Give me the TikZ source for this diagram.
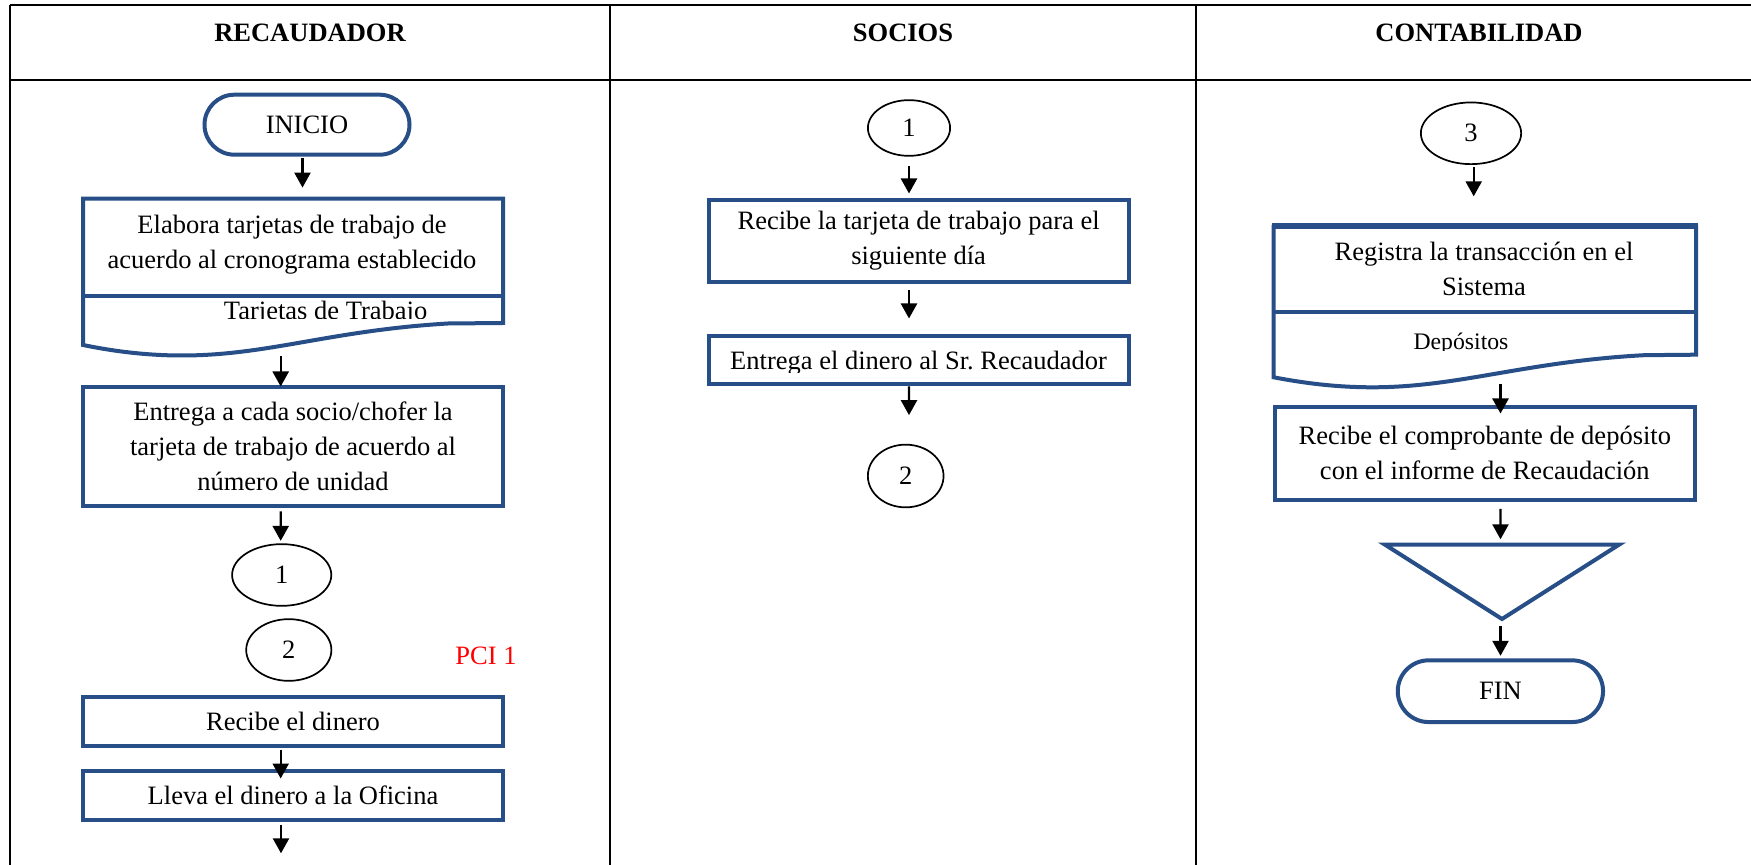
\documentclass[tikz,border=0pt]{standalone}
\usepackage{fontspec}
\setmainfont{Liberation Serif}
\usetikzlibrary{arrows.meta,shapes.misc,shapes.geometric,calc}
\definecolor{flowblue}{RGB}{39,78,135}
% fixes the height of the first line of a multi-line label
\newcommand\firstline{\rule{0pt}{10pt}}

\begin{document}
\begin{tikzpicture}[x=0.5pt,y=-0.5pt,
  every node/.style={font=\fontsize{13.25}{17.5}\selectfont, inner sep=0pt},
  lane/.style={line width=1.1pt, draw=black},
  procbox/.style={draw=flowblue, line width=2pt, rectangle, minimum width=210pt, align=center},
  terminal/.style={draw=flowblue, line width=2pt, rounded rectangle, minimum width=102.5pt, minimum height=30pt},
  connector/.style={draw=black, line width=0.85pt, ellipse},
  docline/.style={draw=flowblue, line width=2pt, line join=miter},
  flowarrow/.style={draw=black, line width=1.2pt, -{Triangle[width=8pt,length=7.5pt]}},
  heading/.style={font=\fontsize{13.25}{17.5}\selectfont\bfseries, anchor=base},
]
\useasboundingbox (0,0) rectangle (1751,865);
\fill[white] (0,0) rectangle (1751,865);

% swimlane grid
\draw[lane] (10,5) -- (1751,5);
\draw[lane] (10,80) -- (1751,80);
\draw[lane] (10,5) -- (10,865);
\draw[lane] (610,5) -- (610,865);
\draw[lane] (1196,5) -- (1196,865);

\node[heading] (hrec) at (310,41.7) {RECAUDADOR};
\node[heading] (hsoc) at (903,41.7) {SOCIOS};
\node[heading] (hcon) at (1479,41.7) {CONTABILIDAD};

% ---------------- RECAUDADOR ----------------
\node[terminal] (inicio) at (307,124.7) {INICIO};

% document shape: work cards
\node[minimum width=212pt, minimum height=80.3pt] (doc1) at (293,277) {};
\draw[docline] (83,198.7) -- (503,198.7) -- (503,323) -- (448,323.5)
  .. controls (330,330.5) and (268,355.5) .. (182,355.5)
  .. controls (140,355.5) and (105,349.5) .. (83,345) -- cycle;
\draw[docline] (83,296) -- (503,296);
\node[anchor=north, align=center] (doc1text) at (292,213)
  {\firstline Elabora tarjetas de trabajo de\\acuerdo al cronograma establecido};
\begin{scope}
  \clip (85,298) rectangle (501,318.3);
  \node[anchor=base] (doc1label) at (325.6,320) {Tarjetas de Trabajo};
\end{scope}

\node[procbox, minimum height=59.65pt] (box2) at (293,446.7)
  {Entrega a cada socio/chofer la\\tarjeta de trabajo de acuerdo al\\número de unidad};
\node[connector, minimum width=49.6pt, minimum height=30.85pt] (c1a) at (281.7,575) {1};
\node[connector, minimum width=42.6pt, minimum height=30.85pt] (c2a) at (288.8,650) {2};
\node[anchor=base, text=red] (pci) at (486,665) {PCI 1};
\node[procbox, minimum height=24.5pt] (box3) at (293,721.3) {Recibe el dinero};
\node[procbox, minimum height=24.5pt] (box4) at (293,795.3) {Lleva el dinero a la Oficina};
\coordinate (tail) at (281,853.3);

\draw[flowarrow] ($(inicio.south)+(-4.5,1.5)$) -- ($(doc1.north)+(9.5,-8.7)$);
\draw[flowarrow] ($(doc1.south)+(-12.3,-1.3)$) -- ($(box2.north)+(-12.3,1.45)$);
\draw[flowarrow] ($(box2.south)+(-12.3,3.15)$) -- ($(c1a.north)+(-1,-2.45)$);
\draw[flowarrow] ($(box3.south)+(-12.3,1.7)$) -- ($(box4.north)+(-12.3,9.7)$);
\draw[flowarrow] ($(box4.south)+(-12,2.7)$) -- (tail);

% ---------------- SOCIOS ----------------
\node[connector, minimum width=41.1pt, minimum height=27.85pt] (s1) at (909,128) {1};
\node[procbox, minimum height=41.35pt] (sbox1) at (918.6,240.9)
  {Recibe la tarjeta de trabajo para el\\siguiente día};
\node[procbox, minimum height=23.85pt] (sbox2) at (918.6,359.9) {};
\begin{scope}
  \clip (708,337) rectangle (1129,373);
  \node[anchor=base] (sbox2text) at (918.6,370) {Entrega el dinero al Sr.\ Recaudador};
\end{scope}
\node[connector, minimum width=37.85pt, minimum height=31.35pt] (s2) at (905.7,476) {2};

\draw[flowarrow] ($(s1.south)+(0,9.15)$) -- ($(sbox1.north)+(-9.6,-4.05)$);
\draw[flowarrow] ($(sbox1.south)+(-9.6,5.55)$) -- ($(sbox2.north)+(-9.6,-15.55)$);
\draw[flowarrow] ($(sbox2.south)+(-9.6,0.75)$) -- ($(s2.north)+(3.3,-28.65)$);

% ---------------- CONTABILIDAD ----------------
\node[connector, minimum width=50.15pt, minimum height=30.85pt] (c3) at (1471,133.3) {3};

% document shape: deposits
\node[minimum width=213.2pt, minimum height=83.3pt] (doc2) at (1484.8,306) {};
\draw[docline] (1273.6,227) -- (1696,227) -- (1696,354.7) -- (1644,355.2)
  .. controls (1526,361.5) and (1458.5,387.3) .. (1372.5,387.3)
  .. controls (1330,387.3) and (1296,381.5) .. (1273.6,377.3) -- cycle;
\draw[draw=flowblue, line width=3.3pt] (1271.6,226) -- (1698,226);
\draw[docline] (1273.6,312.3) -- (1696,312.3);
\node[anchor=north, align=center] (doc2text) at (1484,240)
  {\firstline Registra la transacción en el\\Sistema};
\begin{scope}
  \clip (1275,314) rectangle (1694,351);
  \node[anchor=base, font=\fontsize{11.85}{14}\selectfont] (doc2label) at (1461,349.3) {Depósitos};
\end{scope}

\node[procbox, minimum height=46.35pt] (cbox) at (1484.8,453.4)
  {Recibe el comprobante de depósito\\con el informe de Recaudación};

% merge (inverted triangle)
\coordinate (trtop) at (1502,544.7);
\coordinate (trapex) at (1502,619);
\draw[docline] (1385,544.7) -- (1619,544.7) -- (trapex) -- cycle;

\node[terminal, minimum width=102.65pt, minimum height=30.85pt] (fin) at (1500.4,691.2) {FIN};

\draw[flowarrow] ($(c3.south)+(2.7,1.85)$) -- ($(doc2.north)+(-11.1,-26)$);
\draw[flowarrow] ($(doc2.south)+(15.7,-5.3)$) -- ($(cbox.north)+(15.7,8.45)$);
\draw[flowarrow] ($(cbox.south)+(15.7,7.05)$) -- ($(trtop)+(-1.5,-5.4)$);
\draw[flowarrow] ($(trapex)+(-1.5,7)$) -- ($(fin.north)+(0.1,-2.55)$);
\end{tikzpicture}
\end{document}
